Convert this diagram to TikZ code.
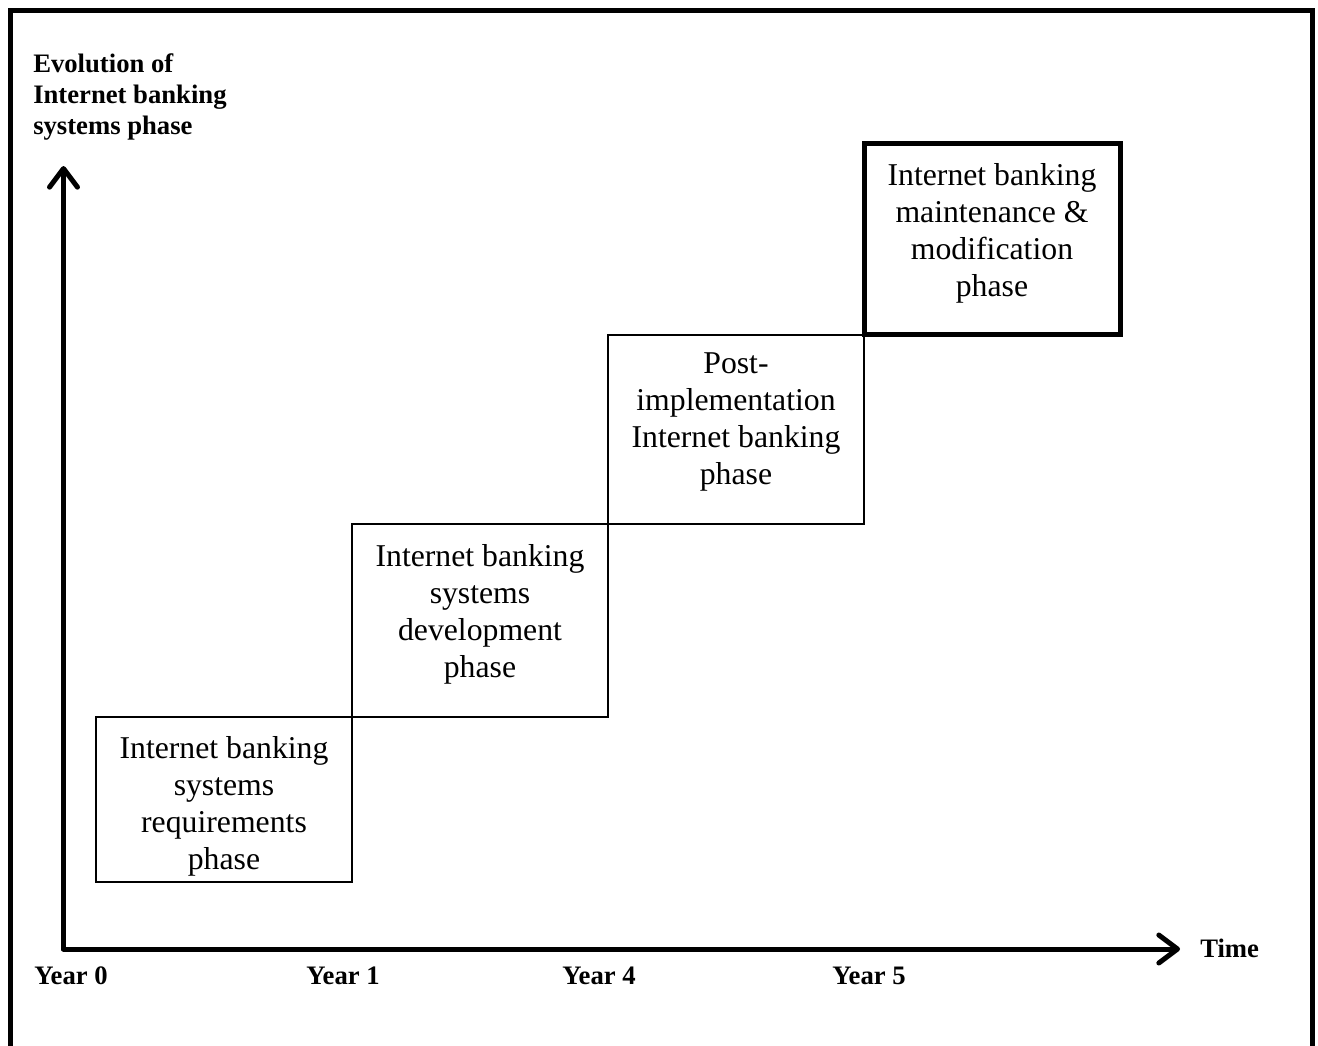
\documentclass[tikz,border=0pt]{standalone}
\usepackage{fontspec}
\setmainfont{Liberation Serif}
\usetikzlibrary{arrows.meta}
\begin{document}
\begin{tikzpicture}[x=0.75pt,y=-0.75pt,
  thinbox/.style={draw=black,line width=1.1pt,inner sep=0pt,outer sep=0pt,anchor=north west},
  thickbox/.style={draw=black,line width=3.75pt,inner sep=0pt,outer sep=0pt,anchor=north west},
  phasetext/.style={align=center,font=\fontsize{23.8}{27.8}\selectfont,inner sep=0pt},
  axislabel/.style={font=\fontsize{20}{23.3}\selectfont\bfseries,inner sep=0pt},
  axisline/.style={line width=3.75pt,line cap=round,
    -{Straight Barb[length=14pt,width=21pt,line cap=round,line join=round]}}]
\useasboundingbox (0,0) rectangle (1318,1046);
% outer frame (open at the bottom)
\draw[line width=3.75pt] (10.5,1046) -- (10.5,10.5) -- (1312.5,10.5) -- (1312.5,1046);
% phase boxes
\node[thinbox,minimum width=256*0.75pt,minimum height=165*0.75pt] (b1) at (96,717) {};
\node[thinbox,minimum width=256*0.75pt,minimum height=193*0.75pt] (b2) at (352,524) {};
\node[thinbox,minimum width=256*0.75pt,minimum height=189*0.75pt] (b3) at (608,335) {};
\node[thickbox,minimum width=256.5*0.75pt,minimum height=191*0.75pt] (b4) at (864,143) {};
\node[phasetext] (t1) at (224,806) {Internet banking\\systems\\requirements\\phase};
\node[phasetext] (t2) at (480,614) {Internet banking\\systems\\development\\phase};
\node[phasetext] (t3) at (736,422) {Post-\\implementation\\Internet banking\\phase};
\node[phasetext] (t4) at (992,233) {Internet banking\\maintenance \&\\modification\\phase};
% axes
\coordinate (origin) at (63.5,949);
\coordinate (ytip) at (63.5,166);
\coordinate (xtip) at (1180,949);
\draw[axisline] (origin) -- (ytip);
\draw[axisline] (origin) -- (xtip);
% axis labels
\node[axislabel,align=left,anchor=north west] (ylab) at (33,53) {Evolution of\\Internet banking\\systems phase};
\node[axislabel,anchor=west] (xlab) at (1200,948) {Time};
\node[axislabel] (y0) at (71,976) {Year 0};
\node[axislabel] (y1) at (343,976) {Year 1};
\node[axislabel] (y4) at (599,976) {Year 4};
\node[axislabel] (y5) at (869,976) {Year 5};
\end{tikzpicture}
\end{document}
